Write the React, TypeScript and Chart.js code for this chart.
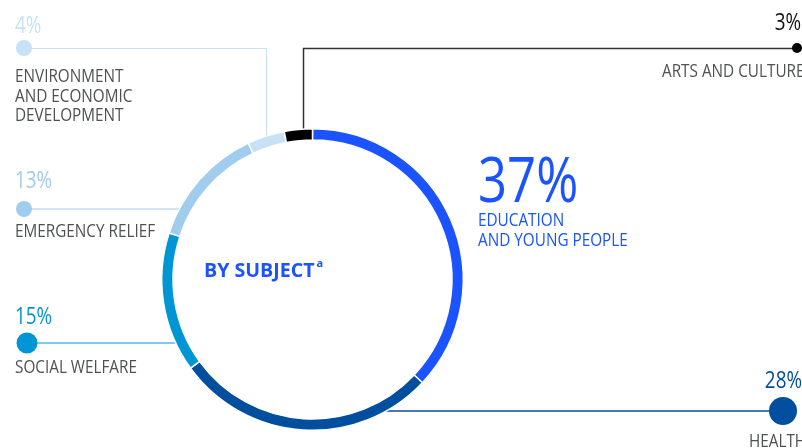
import React, { useEffect, useRef } from "react";
import { Chart, registerables } from "chart.js";

Chart.register(...registerables);

// ---- data ----
const categories = [
  "Education and young people",
  "Health",
  "Social welfare",
  "Emergency relief",
  "Environment and economic development",
  "Arts and culture",
];
const labelLines = [
  ["EDUCATION", "AND YOUNG PEOPLE"],
  ["HEALTH"],
  ["SOCIAL WELFARE"],
  ["EMERGENCY RELIEF"],
  ["ENVIRONMENT", "AND ECONOMIC", "DEVELOPMENT"],
  ["ARTS AND CULTURE"],
];
const values = [37, 28, 15, 13, 4, 3];
const colors = ["#1A53FF", "#004F9F", "#0096D6", "#A0CCEE", "#C7E1F5", "#000000"];
const centerTitle = "BY SUBJECT";
const centerSup = "a";

// ---- layout (positions & styles) ----
const FONT = '"Open Sans", "Noto Sans", sans-serif';
const SX = 0.85;
const LABEL_GRAY = "#4F5052";

type Layout = {
  pctX: number;
  pctY: number;
  pctSize: number;
  pctAlign: "left" | "right";
  pctColor: string;
  lblX: number;
  lblY: number;
  lblColor: string;
  lineH: number;
  dot?: { x: number; y: number; r: number };
  connector: "none" | "hLeft" | "hRight" | "elbowLeft" | "elbowRight";
  elbowFrac?: number;
  lineColor?: string;
  lineWidth?: number;
};

const layouts: Layout[] = [
  { pctX: 478, pctY: 202, pctSize: 62, pctAlign: "left", pctColor: "#1A53FF", lblX: 478, lblY: 226, lblColor: "#1A53FF", lineH: 20, connector: "none" },
  { pctX: 802, pctY: 388, pctSize: 23, pctAlign: "right", pctColor: "#004F9F", lblX: 749, lblY: 447, lblColor: LABEL_GRAY, lineH: 20, dot: { x: 783, y: 411, r: 14 }, connector: "hRight", lineColor: "#004F9F", lineWidth: 1.5 },
  { pctX: 15, pctY: 324, pctSize: 23, pctAlign: "left", pctColor: "#0096D6", lblX: 15, lblY: 373, lblColor: LABEL_GRAY, lineH: 20, dot: { x: 27, y: 343, r: 10.5 }, connector: "hLeft", lineColor: "#0096D6", lineWidth: 1 },
  { pctX: 15, pctY: 188, pctSize: 23, pctAlign: "left", pctColor: "#A0CCEE", lblX: 15, lblY: 237, lblColor: LABEL_GRAY, lineH: 20, dot: { x: 24, y: 209, r: 8 }, connector: "hLeft", lineColor: "#A0CCEE", lineWidth: 1 },
  { pctX: 15, pctY: 33, pctSize: 23, pctAlign: "left", pctColor: "#C7E1F5", lblX: 15, lblY: 82, lblColor: LABEL_GRAY, lineH: 19.5, dot: { x: 24, y: 48, r: 8 }, connector: "elbowLeft", elbowFrac: 0.5, lineColor: "#C7E1F5", lineWidth: 1 },
  { pctX: 801, pctY: 30, pctSize: 23, pctAlign: "right", pctColor: "#111111", lblX: 662, lblY: 77, lblColor: LABEL_GRAY, lineH: 20, dot: { x: 797, y: 48, r: 5 }, connector: "elbowRight", elbowFrac: 0.66, lineColor: "#333333", lineWidth: 1.5 },
];

function drawText(
  ctx: CanvasRenderingContext2D,
  text: string,
  x: number,
  y: number,
  font: string,
  color: string,
  align: "left" | "right",
  sx: number = SX
) {
  ctx.save();
  ctx.font = font;
  ctx.fillStyle = color;
  ctx.textBaseline = "alphabetic";
  ctx.textAlign = "left";
  const w = ctx.measureText(text).width * sx;
  const x0 = align === "right" ? x - w : x;
  ctx.translate(x0, y);
  ctx.scale(sx, 1);
  ctx.fillText(text, 0, 0);
  ctx.restore();
  return w;
}

function arcGeom(chart: any, i: number) {
  const el: any = chart.getDatasetMeta(0).data[i];
  return el.getProps(["x", "y", "startAngle", "endAngle", "outerRadius", "innerRadius"], true);
}

const connectorPlugin = {
  id: "connectors",
  beforeDatasetsDraw(chart: any) {
    const ctx: CanvasRenderingContext2D = chart.ctx;
    layouts.forEach((L, i) => {
      if (L.connector === "none" || !L.dot) return;
      const g = arcGeom(chart, i);
      const R = g.outerRadius;
      ctx.save();
      ctx.strokeStyle = L.lineColor || "#000";
      ctx.lineWidth = L.lineWidth || 1;
      ctx.beginPath();
      if (L.connector === "hLeft" || L.connector === "hRight") {
        const dy = L.dot.y - g.y;
        const dx = Math.sqrt(Math.max(R * R - dy * dy, 0));
        const ex = L.connector === "hLeft" ? g.x - dx + 2 : g.x + dx - 2;
        ctx.moveTo(L.dot.x, L.dot.y);
        ctx.lineTo(ex, L.dot.y);
      } else {
        const f = L.elbowFrac ?? 0.5;
        const a = g.startAngle + (g.endAngle - g.startAngle) * f;
        const ex = Math.round(g.x + R * Math.cos(a)) + 0.5;
        const ey = g.y + R * Math.sin(a) + 2;
        ctx.moveTo(L.dot.x, L.dot.y + 0.5);
        ctx.lineTo(ex, L.dot.y + 0.5);
        ctx.lineTo(ex, ey);
      }
      ctx.stroke();
      ctx.restore();
    });
  },
  afterDraw(chart: any) {
    const ctx: CanvasRenderingContext2D = chart.ctx;
    layouts.forEach((L, i) => {
      if (L.dot) {
        ctx.save();
        ctx.fillStyle = colors[i];
        ctx.beginPath();
        ctx.arc(L.dot.x, L.dot.y, L.dot.r, 0, Math.PI * 2);
        ctx.fill();
        ctx.restore();
      }
      drawText(ctx, `${values[i]}%`, L.pctX, L.pctY, `400 ${L.pctSize}px ${FONT}`, L.pctColor, L.pctAlign, 0.82);
      labelLines[i].forEach((line, k) => {
        drawText(ctx, line, L.lblX, L.lblY + k * L.lineH, `400 18px ${FONT}`, L.lblColor, "left");
      });
    });
    const w = drawText(ctx, centerTitle, 204, 277, `700 20px ${FONT}`, "#1A53FF", "left", 0.98);
    drawText(ctx, centerSup, 204 + w + 2, 267, `700 11px ${FONT}`, "#1A53FF", "left", 1);
  },
};

export default function App() {
  const ref = useRef<HTMLCanvasElement | null>(null);
  useEffect(() => {
    document.body.style.margin = "0";
    const canvas = ref.current;
    if (!canvas) return;
    const chart = new Chart(canvas, {
      type: "doughnut",
      data: {
        labels: categories,
        datasets: [
          {
            data: values,
            backgroundColor: colors,
            borderColor: "#ffffff",
            borderWidth: 1.5,
            hoverOffset: 0,
          },
        ],
      },
      options: {
        animation: false,
        responsive: false,
        maintainAspectRatio: false,
        cutout: "92.5%",
        events: [],
        layout: { padding: { left: 161, right: 338, top: 128, bottom: 17 } },
        plugins: { legend: { display: false }, tooltip: { enabled: false } },
      },
      plugins: [connectorPlugin],
    } as any);
    return () => chart.destroy();
  }, []);
  return (
    <div style={{ width: 802, height: 448, position: "relative", background: "#fff" }}>
      <canvas ref={ref} width={802} height={448} style={{ display: "block" }} />
    </div>
  );
}
